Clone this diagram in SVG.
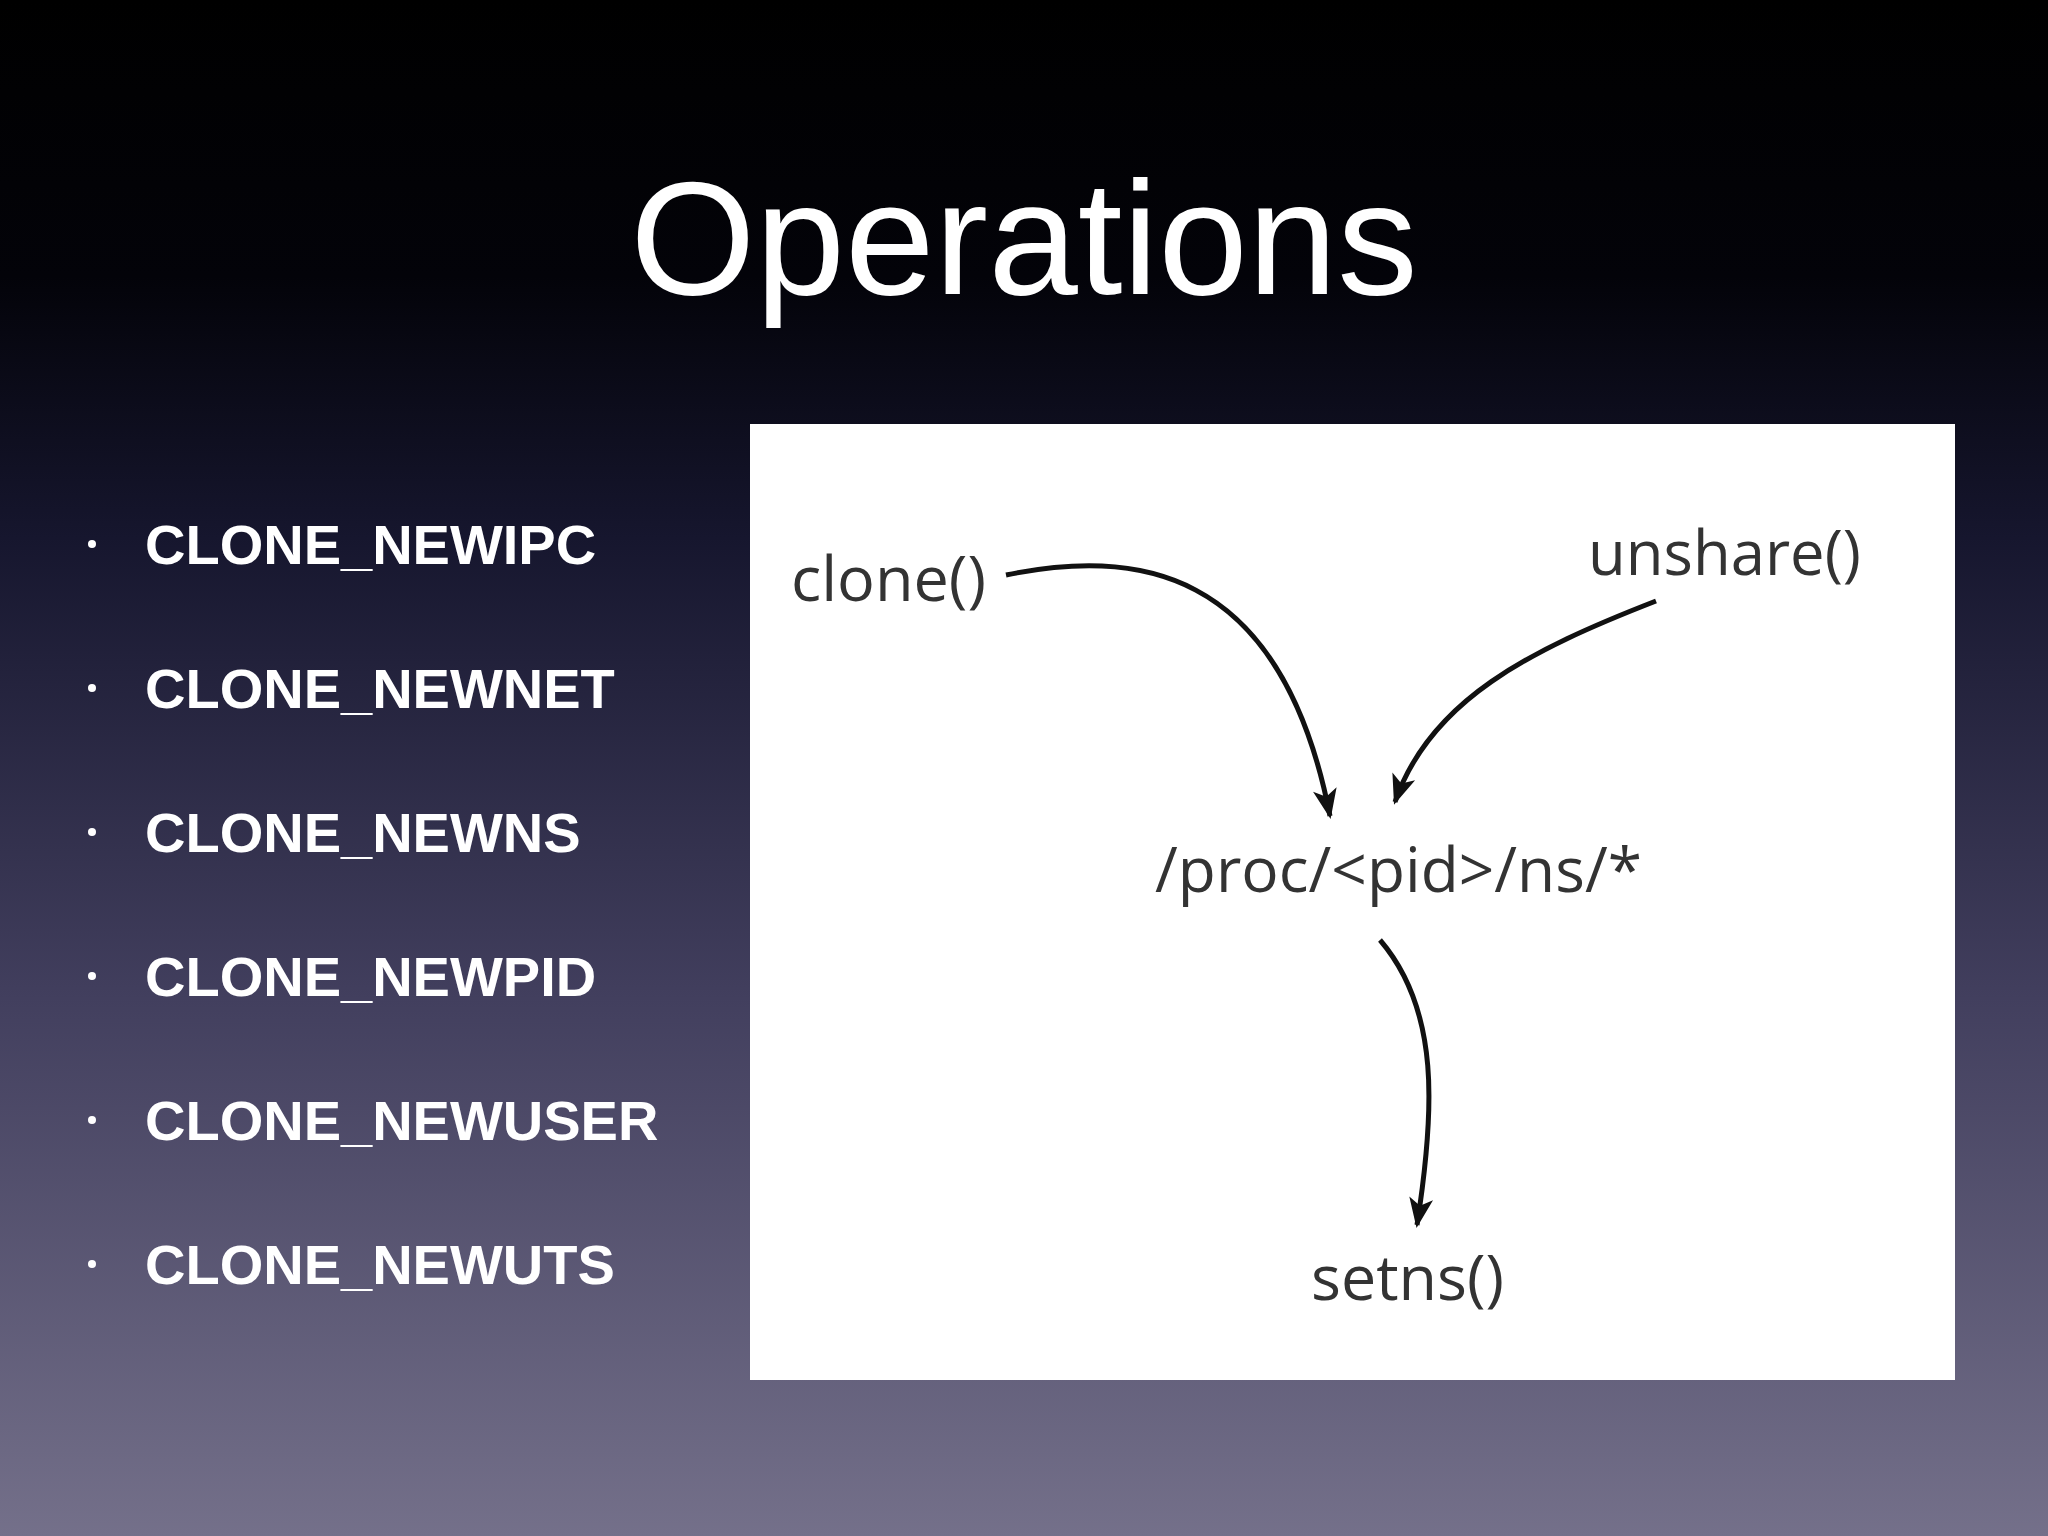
<svg xmlns="http://www.w3.org/2000/svg" width="2048" height="1536" viewBox="0 0 2048 1536">
<defs>
<linearGradient id="bg" x1="0" y1="0" x2="0" y2="1">
<stop offset="0" stop-color="#000000"/>
<stop offset="0.18" stop-color="#030309"/>
<stop offset="0.35" stop-color="#16162e"/>
<stop offset="0.65" stop-color="#423f5e"/>
<stop offset="1" stop-color="#74708a"/>
</linearGradient>
<style>
.b{font-family:"Liberation Sans",Arial,sans-serif;font-weight:bold;font-size:56px;fill:#fff}
.dot{fill:#fff}
.d{font-family:"Open Sans","DejaVu Sans",sans-serif;font-size:62px;fill:#333}
.c{fill:none;stroke:#111;stroke-width:5}
</style>
<marker id="arr" viewBox="0 0 20 20" refX="18" refY="10" markerWidth="34" markerHeight="30" orient="auto" markerUnits="userSpaceOnUse">
<path d="M0,2 L20,10 L0,18 L5,10 z" fill="#111"/>
</marker>
</defs>
<rect width="2048" height="1536" fill="url(#bg)"/>
<text x="1024" y="294" text-anchor="middle" font-family="Liberation Sans,Arial,sans-serif" font-size="161" fill="#fff">Operations</text>
<g id="bullets">
<circle class="dot" cx="92" cy="544" r="4"/><text class="b" x="145" y="564">CLONE_NEWIPC</text>
<circle class="dot" cx="92" cy="688" r="4"/><text class="b" x="145" y="708">CLONE_NEWNET</text>
<circle class="dot" cx="92" cy="832" r="4"/><text class="b" x="145" y="852">CLONE_NEWNS</text>
<circle class="dot" cx="92" cy="976" r="4"/><text class="b" x="145" y="996">CLONE_NEWPID</text>
<circle class="dot" cx="92" cy="1120" r="4"/><text class="b" x="145" y="1140">CLONE_NEWUSER</text>
<circle class="dot" cx="92" cy="1264" r="4"/><text class="b" x="145" y="1284">CLONE_NEWUTS</text>
</g>
<rect x="750" y="424" width="1205" height="956" fill="#fff"/>
<g id="clone"><text class="d" x="791" y="601" textLength="195" lengthAdjust="spacingAndGlyphs">clone()</text></g>
<g id="unshare"><text class="d" x="1588" y="575" textLength="273" lengthAdjust="spacingAndGlyphs">unshare()</text></g>
<g id="proc"><text class="d" x="1155" y="892" textLength="487" lengthAdjust="spacingAndGlyphs">/proc/&lt;pid&gt;/ns/*</text></g>
<g id="setns"><text class="d" x="1311" y="1300" textLength="193" lengthAdjust="spacingAndGlyphs">setns()</text></g>
<g id="connectors">
<path class="c" marker-end="url(#arr)" d="M1006,575 C1130,550 1280,560 1330,816"/>
<path class="c" marker-end="url(#arr)" d="M1656,601 C1530,650 1430,700 1395,802"/>
<path class="c" marker-end="url(#arr)" d="M1380,940 C1440,1010 1435,1110 1417,1225"/>
</g>
</svg>
